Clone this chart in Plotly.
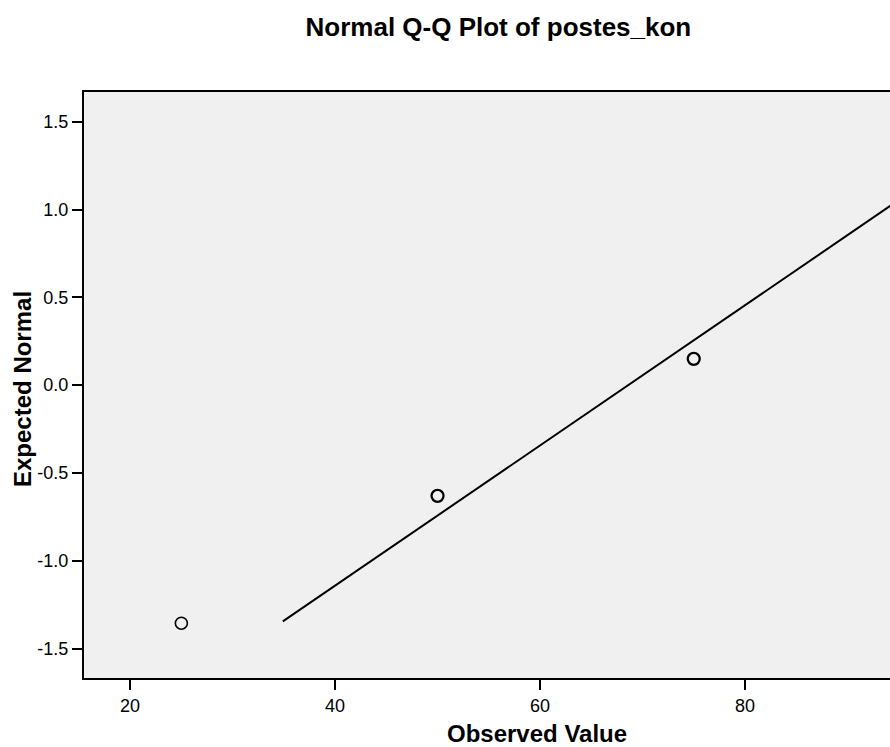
import plotly.graph_objects as go

observed = [25, 50, 75]
expected = [-1.355, -0.63, 0.15]
line_x = [34.9, 100]
line_mean = 68.6
line_sd = 25.06
line_y = [(x - line_mean) / line_sd for x in line_x]

x_ticks = [20, 40, 60, 80]
y_ticks = [-1.5, -1.0, -0.5, 0.0, 0.5, 1.0, 1.5]

fig = go.Figure()
fig.add_trace(go.Scatter(x=line_x, y=line_y, mode="lines",
                         line=dict(color="black", width=2), hoverinfo="skip"))
fig.add_trace(go.Scatter(x=observed, y=expected, mode="markers",
                         marker=dict(symbol="circle-open", size=12, color="black",
                                     line=dict(width=[1.6, 2.3, 2.3], color="black"))))

font = "Liberation Sans, Arial, sans-serif"
fig.update_layout(
    width=890, height=747,
    margin=dict(l=84, r=0, t=92, b=69),
    paper_bgcolor="white", plot_bgcolor="#f0f0f0",
    showlegend=False,
    font=dict(family=font, color="black", size=18),
    title=dict(text="<b>Normal Q-Q Plot of postes_kon</b>", xref="container", x=0.560,
               xanchor="center", yref="container", y=1 - 26.5 / 747, yanchor="middle",
               font=dict(size=26, family=font, color="black")),
    xaxis=dict(range=[15.5, 94.15], tickvals=x_ticks, ticktext=[str(v) for v in x_ticks],
               showgrid=False, zeroline=False, showline=True, linecolor="black", linewidth=2,
               mirror=True, ticks="outside", ticklen=10, tickwidth=2, tickcolor="black",
               tickfont=dict(size=18)),
    yaxis=dict(range=[-1.667, 1.669], tickvals=y_ticks,
               ticktext=["%.1f" % v for v in y_ticks],
               showgrid=False, zeroline=False, showline=True, linecolor="black", linewidth=2,
               mirror=False, ticks="outside", ticklen=10, tickwidth=2, tickcolor="black",
               tickfont=dict(size=18)),
    annotations=[
        dict(text="<b>Observed Value</b>", xref="paper", yref="paper",
             x=(537 - 84) / 806, y=-(733 - 678) / 586, xanchor="center", yanchor="middle",
             showarrow=False, font=dict(size=24, family=font, color="black")),
        dict(text="<b>Expected Normal</b>", xref="paper", yref="paper",
             x=(22 - 84) / 806, y=(678 - 389) / 586, xanchor="center", yanchor="middle",
             textangle=-90, showarrow=False, font=dict(size=24, family=font, color="black")),
    ],
)
fig.write_html("out.html", config={"displayModeBar": False},
               post_script="document.body.style.margin='0px';")
